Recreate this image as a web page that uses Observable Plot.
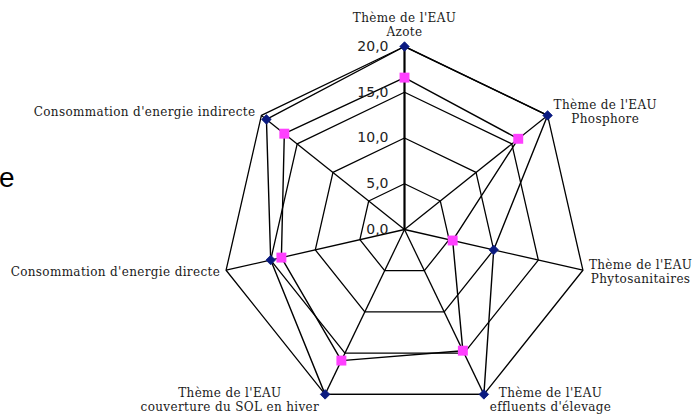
<!DOCTYPE html>
<html><head><meta charset="utf-8">
<script src="https://cdn.jsdelivr.net/npm/d3@7"></script>
<script src="https://cdn.jsdelivr.net/npm/@observablehq/plot@0.6"></script>
<style>
html,body{margin:0;padding:0;background:#fff;}
#wrap{position:relative;width:699px;height:414px;overflow:hidden;}
#legend{position:absolute;left:-1px;top:164px;font:28px "Liberation Sans",Arial,sans-serif;color:#000;line-height:1;}
.cat text{letter-spacing:0.35px;}
</style></head><body>
<div id="wrap"><div id="legend"></div></div>
<script>
const categories = [
  "Thème de l'EAU\nAzote",
  "Thème de l'EAU\nPhosphore",
  "Thème de l'EAU\nPhytosanitaires",
  "Thème de l'EAU\neffluents d'élevage",
  "Thème de l'EAU\ncouverture du SOL en hiver",
  "Consommation d'energie directe",
  "Consommation d'energie indirecte"
];
const seriesA = [20, 20, 10, 20, 20, 15, 19.3];
const seriesB = [16.6, 15.9, 5.4, 14.7, 15.9, 13.8, 16.8];
const tickValues = [0, 5, 10, 15, 20];
const tickLabels = ["0,0", "5,0", "10,0", "15,0", "20,0"];
const legendText = "e";

const W = 699, H = 414, cx = 404, cy = 229, k = 183 / 20;
const maxV = 20;
const n = categories.length;
const ang = i => i * 2 * Math.PI / n;
const pt = (i, r) => ({x: r * Math.sin(ang(i)), y: r * Math.cos(ang(i))});

const rings = tickValues.filter(t => t > 0).flatMap(t =>
  d3.range(n + 1).map(i => ({ring: t, ...pt(i % n, t)})));
const spokes = d3.range(n).map(i => ({i, ...pt(i, maxV)}));
const lineA = d3.range(n + 1).map(i => pt(i % n, seriesA[i % n]));
const lineB = d3.range(n + 1).map(i => pt(i % n, seriesB[i % n]));
const dotsA = seriesA.map((v, i) => pt(i, v));
const dotsB = seriesB.map((v, i) => pt(i, v));
const tickData = tickValues.map((v, j) => ({x: 0, y: v, label: tickLabels[j]}));

const fs = 12, ls = 0.35;
const ctx = document.createElement("canvas").getContext("2d");
ctx.font = fs + "px 'DejaVu Serif'";
const lineH = 13.5;
const gap = 6;
const labelMarks = categories.map((c, i) => {
  const lines = c.split("\n");
  const w = d3.max(lines, l => ctx.measureText(l).width + ls * l.length);
  const s = Math.sin(ang(i)), co = Math.cos(ang(i));
  const p = pt(i, maxV);
  let dx = 0, dy = 0, lineAnchor = "middle";
  if (Math.abs(s) < 0.05) { dy = -11; lineAnchor = "bottom"; }
  else { dx = Math.sign(s) * (w / 2 + gap); dy = -co * 6; }
  return Plot.text([{...p, label: c}], {
    x: "x", y: "y", text: "label", dx, dy, lineAnchor, textAnchor: "middle",
    fontFamily: "DejaVu Serif", fontSize: fs, lineHeight: lineH / fs, fill: "#1a1a1a",
    className: "cat"
  });
});

const chart = Plot.plot({
  width: W, height: H, margin: 0,
  x: {domain: [-cx / k, (W - cx) / k], axis: null},
  y: {domain: [-(H - cy) / k, cy / k], axis: null},
  marks: [
    Plot.line(rings, {x: "x", y: "y", z: "ring", stroke: "#000", strokeWidth: 1.3}),
    Plot.link(spokes.filter(d => d.i > 0), {x1: 0, y1: 0, x2: "x", y2: "y", stroke: "#000", strokeWidth: 1.3}),
    Plot.link(spokes.filter(d => d.i === 0), {x1: 0, y1: 0, x2: "x", y2: "y", stroke: "#000", strokeWidth: 2.2}),
    Plot.line(lineA, {x: "x", y: "y", stroke: "#000", strokeWidth: 1.4}),
    Plot.line(lineB, {x: "x", y: "y", stroke: "#000", strokeWidth: 1.4}),
    Plot.dot(dotsA, {x: "x", y: "y", symbol: "diamond2", r: 4.3, fill: "#0a1a80", stroke: "#0a1a80", strokeWidth: 0.8}),
    Plot.dot(dotsB, {x: "x", y: "y", symbol: "square", r: 5.6, fill: "#ff40ff"}),
    Plot.text(tickData, {x: "x", y: "y", text: "label", textAnchor: "end", dx: -16,
      fontFamily: "DejaVu Sans", fontSize: 14, fill: "#222"}),
    ...labelMarks
  ]
});
document.getElementById("wrap").appendChild(chart);
document.getElementById("legend").textContent = legendText;
</script>
</body></html>
